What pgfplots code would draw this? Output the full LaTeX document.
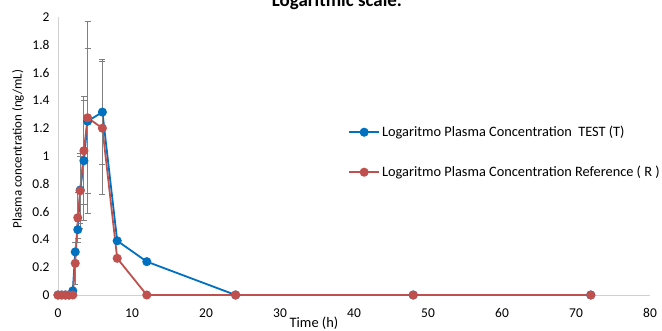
\documentclass[border=0pt]{standalone}
\usepackage{fontspec}
\setmainfont{Carlito}
\usepackage{pgfplots}
\pgfplotsset{compat=1.18}
\usepackage{pgfplotstable}
\definecolor{tblue}{HTML}{0070C0}
\definecolor{rred}{HTML}{C0504D}
\definecolor{ebar}{HTML}{7F7F7F}
\pgfplotstableread{
t y e
0 0 0
0.5 0 0
1 0 0
1.5 0 0
2 0.03 0
2.33 0.31 0.07
2.67 0.47 0.06
3 0.755 0.24
3.5 0.966 0.43
4 1.25 0.52
6 1.316 0.38
8 0.39 0
12 0.24 0
24 0 0
48 0 0
72 0 0
}\testdata
\pgfplotstableread{
t y e
0 0 0
0.5 0 0
1 0 0
1.5 0 0
2 0 0
2.33 0.228 0.15
2.67 0.556 0.18
3 0.75 0.27
3.5 1.038 0.39
4 1.275 0.69
6 1.2 0.48
8 0.264 0
12 0 0
24 0 0
48 0 0
72 0 0
}\refdata
\begin{document}
\begin{tikzpicture}
\useasboundingbox (-58bp,-36bp) rectangle (604bp,295bp);
\begin{axis}[
  at={(0,0)}, anchor=south west,
  scale only axis, width=592bp, height=278bp,
  xmin=0, xmax=80, ymin=0, ymax=2,
  axis x line*=bottom, axis y line*=left,
  axis line style={draw=black!18, -, line width=0.8bp},
  xtick={0,10,20,30,40,50,60,70,80},
  ytick={0,0.2,0.4,0.6,0.8,1,1.2,1.4,1.6,1.8,2},
  yticklabels={0,0.2,0.4,0.6,0.8,1,1.2,1.4,1.6,1.8,2},
  major tick length=0pt,
  /pgf/number format/assume math mode=true,
  tick label style={font=\fontsize{13.5}{15}\selectfont},
  xticklabel style={yshift=-10bp},
  yticklabel style={xshift=-5bp},
  clip=false,
  legend style={draw=none, fill=none, at={(rel axis cs:0.49,0.615)}, anchor=north west,
    font=\fontsize{14.4}{16}\selectfont, row sep=24bp, inner sep=0pt},
  legend cell align=left,
  legend image code/.code={\draw[mark repeat=2,mark phase=2] plot coordinates {(0bp,0bp) (15bp,0bp) (30bp,0bp)};},
]
\addplot[color=tblue, line width=1.8bp, mark=*, mark size=3.6bp, mark options={fill=tblue, draw=tblue},
  error bars/.cd, y dir=both, y explicit,
  error bar style={ebar, line width=1bp, solid},
  error mark options={ebar, mark size=3bp, line width=1bp, rotate=90}]
  table[x=t, y=y, y error=e] {\testdata};
\addlegendentry{Logaritmo Plasma Concentration\ \ TEST (T)}
\addplot[color=rred, line width=1.8bp, mark=*, mark size=3.6bp, mark options={fill=rred, draw=rred},
  error bars/.cd, y dir=both, y explicit,
  error bar style={ebar, line width=1bp, solid},
  error mark options={ebar, mark size=3bp, line width=1bp, rotate=90}]
  table[x=t, y=y, y error=e] {\refdata};
\addlegendentry{Logaritmo Plasma Concentration Reference ( R )}
\end{axis}
\node[anchor=base, font=\bfseries\fontsize{19}{21}\selectfont] at (279bp,288.5bp) {Logaritmic scale.};
\node[font=\fontsize{14.5}{16}\selectfont] at (256bp,-28bp) {Time (h)};
\node[rotate=90, font=\fontsize{13}{15}\selectfont] at (-40bp,146bp) {Plasma concentration (ng/mL)};
\end{tikzpicture}
\end{document}
